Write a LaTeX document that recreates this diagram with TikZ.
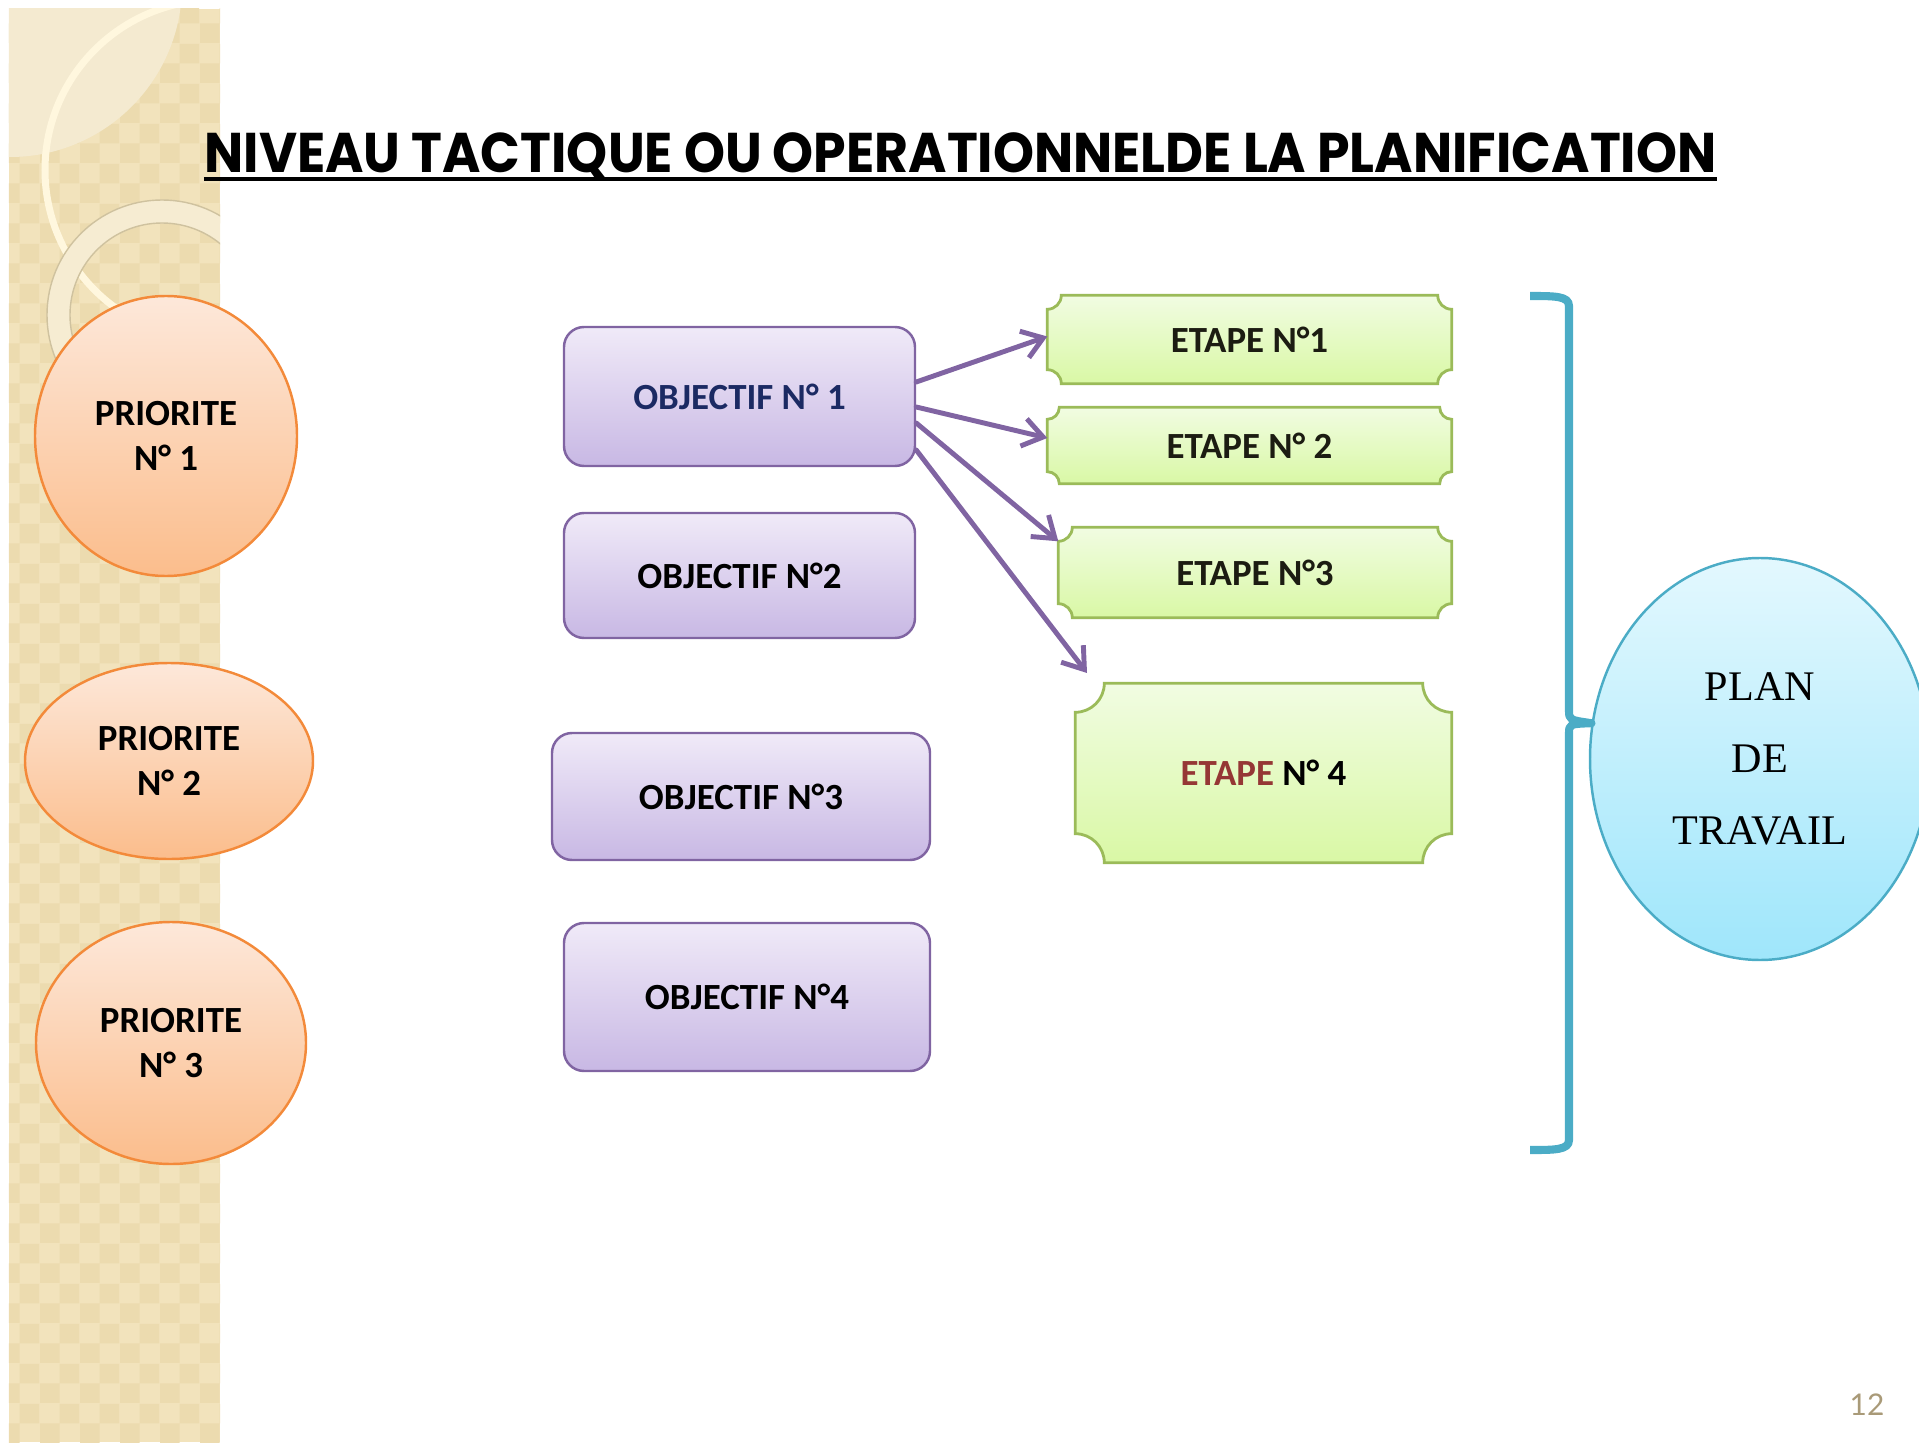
\documentclass[tikz,border=0pt]{standalone}
\usepackage{fontspec}
\setmainfont{Carlito}
\newfontfamily\titlefont{Poppins}
\newfontfamily\planfont{Liberation Serif}
\newfontfamily\pagefont{Lato}
\usetikzlibrary{shapes.geometric,arrows.meta,patterns,backgrounds}

\definecolor{stripbase}{HTML}{F2E3BC}
\definecolor{stripdark}{HTML}{ECDBAF}
\definecolor{stripfade}{HTML}{F4EAD0}
\definecolor{cream}{HTML}{FFF7DE}
\definecolor{ringcol}{HTML}{F6ECD2}
\definecolor{ringedge}{HTML}{CFC29F}
\definecolor{prioline}{HTML}{F38A3A}
\definecolor{priotop}{HTML}{FDE8DA}
\definecolor{priobot}{HTML}{FBBD8C}
\definecolor{objline}{HTML}{8064A2}
\definecolor{objtop}{HTML}{F0EAF8}
\definecolor{objbot}{HTML}{C8B8E4}
\definecolor{obj1text}{HTML}{1B2A63}
\definecolor{etapeline}{HTML}{9BBB59}
\definecolor{etapetop}{HTML}{F1FCE2}
\definecolor{etapebot}{HTML}{D9F8A5}
\definecolor{etapetext}{HTML}{1C1C12}
\definecolor{etaperouge}{HTML}{953735}
\definecolor{planline}{HTML}{4BACC6}
\definecolor{plantop}{HTML}{E3F8FE}
\definecolor{planbot}{HTML}{9FE6FB}
\definecolor{pagecol}{HTML}{A99A78}

\tikzset{
  boxfont/.style={font=\fontsize{10.5}{12.8}\selectfont\bfseries},
  priorite/.style={ellipse, draw=prioline, line width=0.7pt, top color=priotop,
    bottom color=priobot, inner sep=0pt, align=center, boxfont},
  objectif/.style={rectangle, rounded corners=0.2cm, draw=objline, line width=0.7pt,
    top color=objtop, bottom color=objbot, align=center, boxfont},
  etape/.style={rectangle, inner sep=0pt, text=etapetext, boxfont},
  plaquefill/.style={draw=etapeline, line width=0.8pt, top color=etapetop, bottom color=etapebot},
  plan/.style={ellipse, draw=planline, line width=0.7pt, top color=plantop, bottom color=planbot,
    inner sep=0pt, align=center, font=\planfont\fontsize{12}{20.5}\selectfont},
  fleche/.style={draw=objline, line width=1.4pt, line cap=round,
    -{Straight Barb[length=2mm,width=2.8mm]}},
  accolade/.style={draw=planline, line width=2.3pt, line join=round},
  titre/.style={inner sep=0pt, font=\titlefont\bfseries\fontsize{15.3}{18}\selectfont},
}

% cadre aux coins creux pour les etapes
\newcommand\plaque[2]{%
  \path[plaquefill] ([xshift=#2]#1.north west) -- ([xshift=-#2]#1.north east)
    arc[start angle=180,end angle=270,radius=#2] -- ([yshift=#2]#1.south east)
    arc[start angle=90,end angle=180,radius=#2] -- ([xshift=#2]#1.south west)
    arc[start angle=0,end angle=90,radius=#2] -- ([yshift=-#2]#1.north west)
    arc[start angle=270,end angle=360,radius=#2] -- cycle;}

\begin{document}
\begin{tikzpicture}
\useasboundingbox (0,0) rectangle (19.19,14.42);

% bande de gauche
\fill[stripbase] (0.09,0) rectangle (2.20,14.33);
\fill[pattern=checkerboard, pattern color=stripdark] (0.09,0) rectangle (2.20,14.33);
\begin{scope}
  \clip (0.09,0) rectangle (2.20,14.33);
  \fill[stripfade] (0.10,14.57) circle (1.72);
  \draw[cream, line width=0.07cm] (2.15,14.42) arc[start angle=90,end angle=250,radius=1.70];
  \filldraw[fill=ringcol, draw=ringedge, line width=0.4pt, even odd rule]
    (1.62,11.27) circle (1.15) (1.62,11.27) circle (0.92);
\end{scope}

\node[titre, anchor=base] (titre) at (9.605,12.70)
  {\scalebox{0.97}[1.04]{NIVEAU TACTIQUE OU OPERATIONNELDE LA PLANIFICATION}};
\draw[line width=0.04cm] ([yshift=-0.07cm]titre.base west) -- ([yshift=-0.07cm]titre.base east);

\node[priorite, minimum width=2.62cm, minimum height=2.80cm] (p1) at (1.66,10.06) {PRIORITE\\N° 1};
\node[priorite, minimum width=2.88cm, minimum height=1.96cm] (p2) at (1.69,6.81) {PRIORITE\\N° 2};
\node[priorite, minimum width=2.70cm, minimum height=2.42cm] (p3) at (1.71,3.99) {PRIORITE\\N° 3};

\node[objectif, minimum width=3.51cm, minimum height=1.39cm, text=obj1text] (o1) at (7.395,10.455) {OBJECTIF N° 1};
\node[objectif, minimum width=3.51cm, minimum height=1.25cm] (o2) at (7.395,8.665) {OBJECTIF N°2};
\node[objectif, minimum width=3.78cm, minimum height=1.27cm] (o3) at (7.41,6.455) {OBJECTIF N°3};
\node[objectif, minimum width=3.66cm, minimum height=1.48cm] (o4) at (7.47,4.45) {OBJECTIF N°4};

\node[etape, minimum width=4.03cm, minimum height=0.87cm] (e1) at (12.495,11.025) {ETAPE N°1};
\node[etape, minimum width=4.03cm, minimum height=0.75cm] (e2) at (12.495,9.965) {ETAPE N° 2};
\node[etape, minimum width=3.92cm, minimum height=0.89cm] (e3) at (12.55,8.695) {ETAPE N°3};
\node[etape, minimum width=3.75cm, minimum height=1.78cm, text=black] (e4) at (12.635,6.69)
  {\textcolor{etaperouge}{ETAPE} N° 4};
\begin{pgfonlayer}{background}
  \plaque{e1}{0.14cm}
  \plaque{e2}{0.12cm}
  \plaque{e3}{0.14cm}
  \plaque{e4}{0.29cm}
\end{pgfonlayer}

\coordinate (e4tip) at (10.87,7.69);
\draw[fleche] ([yshift=0.145cm]o1.east) -- ([yshift=0.03cm]e1.west);
\draw[fleche] ([yshift=-0.105cm]o1.east) -- ([yshift=0.075cm]e2.west);
\draw[fleche] ([yshift=-0.265cm]o1.east) -- ([yshift=-0.14cm]e3.north west);
\draw[fleche] ([yshift=-0.535cm]o1.east) -- (e4tip);

\node[plan, minimum width=3.40cm, minimum height=4.02cm] (plan) at (17.60,6.83) {PLAN\\DE\\TRAVAIL};
\draw[accolade] (15.30,11.46) .. controls (15.55,11.46) and (15.69,11.46) .. (15.69,11.36)
  -- (15.69,7.32) .. controls (15.69,7.22) .. (plan.168) .. controls (15.69,7.18) .. (15.69,7.08)
  -- (15.69,3.02) .. controls (15.69,2.92) and (15.55,2.92) .. (15.30,2.92);

\node[text=pagecol, font=\pagefont\fontsize{8.5}{10}\selectfont] (num) at (18.67,0.37) {12};
\end{tikzpicture}
\end{document}
